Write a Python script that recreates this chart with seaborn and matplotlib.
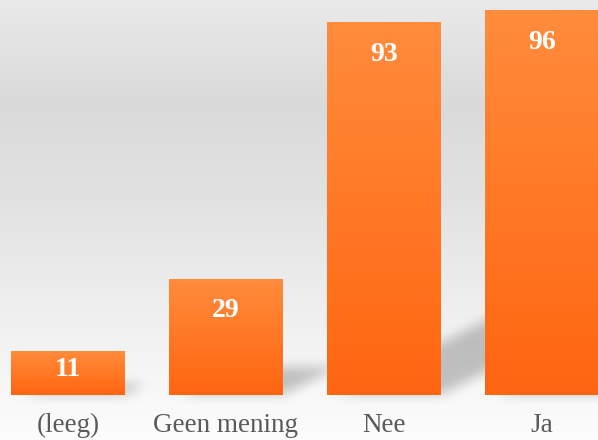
import numpy as np
import pandas as pd
import matplotlib
matplotlib.use("Agg")
import matplotlib.pyplot as plt
import seaborn as sns
from matplotlib.colors import LinearSegmentedColormap

categories = ["(leeg)", "Geen mening", "Nee", "Ja"]
values = [11, 29, 93, 96]

df = pd.DataFrame({"cat": categories, "val": values})

W, H = 598, 440
fig = plt.figure(figsize=(W / 100, H / 100), dpi=100)

# background gradient
bg = fig.add_axes([0, 0, 1, 1], zorder=0)
bg.set_xlim(0, W)
bg.set_ylim(0, H)
bg.axis("off")
ys = np.array([0, 100, 200, 300, 395, 440])  # from top
cs = np.array([0xea, 0xda, 0xe2, 0xee, 0xf8, 0xfd]) / 255.0
col = np.interp(np.arange(H), ys, cs)[::-1]  # bottom-first rows
bgimg = np.repeat(col[:, None], W, axis=1)
bg.imshow(np.dstack([bgimg] * 3), extent=(0, W, 0, H), origin="lower",
          aspect="auto", zorder=0)

ax = fig.add_axes([0, 45 / H, 1, 395 / H], zorder=1)
ax.patch.set_alpha(0)
sns.barplot(data=df, x="cat", y="val", ax=ax, width=0.72, color="#ff7a25",
            saturation=1, edgecolor="none")
ax.set_xlim(-0.430, 3.354)
ax.set_ylim(0, 98.5)
for s in ax.spines.values():
    s.set_visible(False)
ax.set_yticks([])
ax.set_xlabel("")
ax.set_ylabel("")
ax.tick_params(axis="x", length=0, pad=13)
for lab in ax.get_xticklabels():
    lab.set_fontfamily("Liberation Serif")
    lab.set_fontsize(19.5)
    lab.set_color("#5a5a5a")

# gradient fill for bars
cmap = LinearSegmentedColormap.from_list("og", ["#ff6510", "#ff8c3c"])
grad = np.linspace(0, 1, 256)[:, None]
fig.canvas.draw()
shadow = np.zeros((H, W))
yy, xx = np.mgrid[0:H, 0:W]
for p in ax.patches:
    x, w, h = p.get_x(), p.get_width(), p.get_height()
    im = ax.imshow(grad, extent=(x, x + w, 0, h), origin="lower", cmap=cmap,
                   aspect="auto", zorder=2, vmin=0, vmax=1)
    im.set_clip_path(p)
    p.set_facecolor("none")
    # shadow shape in pixel space
    bb = p.get_window_extent()
    x0, x1, base, top = bb.x0, bb.x1, bb.y0, bb.y1
    hs = (top - base) * 0.24
    d = hs / 0.5
    t = (yy - base) / max(hs, 1)
    inside = (yy >= base) & (yy <= base + hs) & (xx >= x0 + 10 + t * d) & (xx <= x1 + t * d)
    shadow[inside] = 1.0

ax.set_xlim(-0.430, 3.354)
ax.set_ylim(0, 98.5)


def box_blur(a, r, axis):
    c = np.cumsum(np.pad(a, [(r + 1, r) if i == axis else (0, 0) for i in range(2)],
                         mode="edge"), axis=axis)
    n = a.shape[axis]
    if axis == 0:
        return (c[2 * r + 1:2 * r + 1 + n] - c[:n]) / (2 * r + 1)
    return (c[:, 2 * r + 1:2 * r + 1 + n] - c[:, :n]) / (2 * r + 1)


for _ in range(3):
    shadow = box_blur(shadow, 5, 0)
    shadow = box_blur(shadow, 5, 1)
rgba = np.zeros((H, W, 4))
rgba[..., 3] = shadow * 0.22
bg.imshow(rgba, extent=(0, W, 0, H), origin="lower", aspect="auto", zorder=1)
bg.set_xlim(0, W)
bg.set_ylim(0, H)

# value labels
ppu = (395 / 98.5)
for i, v in enumerate(values):
    off = min(32, v * ppu * 0.42)
    ax.annotate(str(v), (i, v), xytext=(0, -off * 0.72), textcoords="offset points",
                ha="center", va="center", color="white", fontweight="bold",
                fontfamily="Liberation Serif", fontsize=20, zorder=4)

fig.savefig("out.png", dpi=100)
